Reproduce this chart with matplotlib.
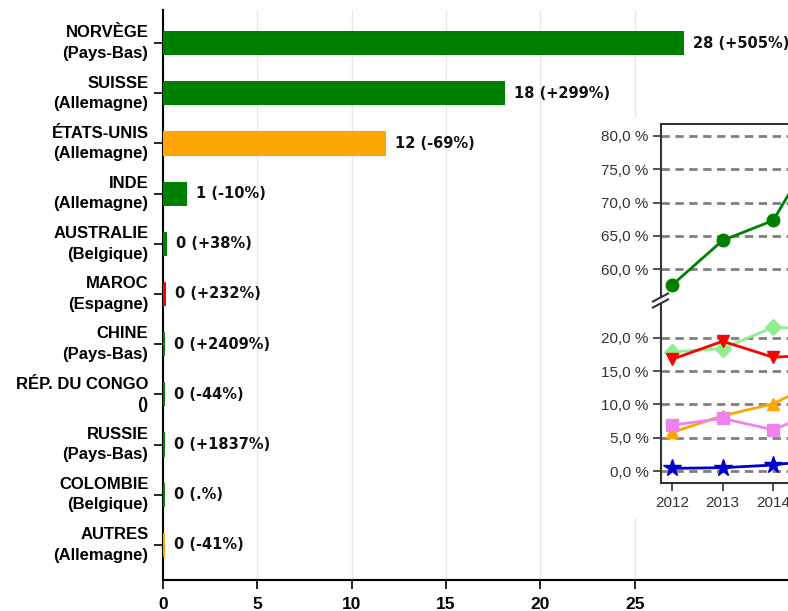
import matplotlib
matplotlib.use("Agg")
import matplotlib.pyplot as plt
from matplotlib.patches import Rectangle
from matplotlib.lines import Line2D
from matplotlib.ticker import FuncFormatter

# --- main bar chart data ---
pays = ["NORVÈGE", "SUISSE", "ÉTATS-UNIS", "INDE", "AUSTRALIE", "MAROC",
        "CHINE", "RÉP. DU CONGO", "RUSSIE", "COLOMBIE", "AUTRES"]
partenaires = ["Pays-Bas", "Allemagne", "Allemagne", "Allemagne", "Belgique",
               "Espagne", "Pays-Bas", "", "Pays-Bas", "Belgique", "Allemagne"]
valeurs = [27.6, 18.1, 11.8, 1.25, 0.22, 0.14, 0.12, 0.09, 0.1, 0.09, 0.09]
etiquettes = ["28 (+505%)", "18 (+299%)", "12 (-69%)", "1 (-10%)", "0 (+38%)",
              "0 (+232%)", "0 (+2409%)", "0 (-44%)", "0 (+1837%)", "0 (.%)",
              "0 (-41%)"]
couleurs = ["green", "green", "orange", "green", "green", "red",
            "green", "green", "green", "green", "orange"]

# --- inset line chart data ---
annees = [2012, 2013, 2014, 2015]
series = [
    # (values, colour, marker, size)
    ([5.8, 8.3, 10.1, 13.8], "orange", "^", 9),
    ([6.9, 7.9, 6.2, 9.3], "violet", "s", 9),
    ([17.9, 18.4, 21.6, 21.3], "lightgreen", "D", 8),
    ([16.8, 19.5, 17.1, 17.5], "red", "v", 9),
    ([0.4, 0.5, 0.9, 1.8], "mediumblue", "*", 13),
    ([57.6, 64.3, 67.3, 80.0], "green", "o", 9),
]

W, H = 788, 611
fig = plt.figure(figsize=(W / 100, H / 100), dpi=100)


def fbox(x0, y0, x1, y1):
    # pixel box (top-left origin) -> figure fraction [l, b, w, h]
    return [x0 / W, (H - y1) / H, (x1 - x0) / W, (y1 - y0) / H]


ax = fig.add_axes(fbox(163, 10, 788, 580))
pos = list(range(len(pays)))
ax.barh(pos, valeurs, height=0.48, color=couleurs, zorder=3)
for p, v, t in zip(pos, valeurs, etiquettes):
    ax.annotate(t, (v, p), xytext=(9, 0), textcoords="offset pixels",
                va="center", ha="left", fontsize=10.5, fontweight="bold",
                family="DejaVu Sans", color="#111111")

ax.set_xlim(0, 625 / 18.87)
ax.set_ylim(10.7, -0.66)
ax.set_yticks(pos)
ax.set_yticklabels([f"{a}\n({b})" for a, b in zip(pays, partenaires)],
                   fontsize=12, fontweight="bold", family="Liberation Sans",
                   linespacing=1.45, va="center")
ax.set_xticks([0, 5, 10, 15, 20, 25])
for lab in ax.get_xticklabels():
    lab.set_fontsize(12.5)
    lab.set_fontweight("bold")
    lab.set_family("Liberation Sans")
ax.tick_params(axis="y", length=6.5, width=1.2, pad=4)
ax.tick_params(axis="x", length=6.5, width=1.2, pad=6)
ax.xaxis.grid(True, color="#e8e8e8", lw=1, zorder=0)
ax.set_axisbelow(True)
for s in ["top", "right"]:
    ax.spines[s].set_visible(False)
for s in ["left", "bottom"]:
    ax.spines[s].set_linewidth(1.5)
    ax.spines[s].set_zorder(2)

# white panel behind the inset
fig.add_artist(Rectangle((595 / W, (H - 518) / H), (W - 595) / W, 400 / H,
                         transform=fig.transFigure, facecolor="white",
                         edgecolor="none", zorder=1))

x_right = 2015.22
x_w = 661 + (x_right - 2011.78) * 50.5
ax_top = fig.add_axes(fbox(661, 124, x_w, 297), zorder=2)
ax_bot = fig.add_axes(fbox(661, 304, x_w, 483), zorder=2)

fmt = FuncFormatter(lambda v, _: f"{v:.1f} %".replace(".", ","))
for a, lo, hi, ticks in [(ax_top, 55.8, 81.8, [60, 65, 70, 75, 80]),
                         (ax_bot, -1.8, 25.1, [0, 5, 10, 15, 20])]:
    for vals, c, m, ms in series:
        a.plot(annees, vals, color=c, marker=m, markersize=ms, lw=2)
    a.set_xlim(2011.78, x_right)
    a.set_ylim(lo, hi)
    a.set_yticks(ticks)
    a.yaxis.set_major_formatter(fmt)
    a.yaxis.grid(True, color="#808080", lw=2, linestyle=(0, (3, 2)))
    a.set_axisbelow(True)
    a.tick_params(axis="y", length=6, width=1.2, labelsize=11,
                  labelcolor="#333333", color="#333333", pad=3)
    a.tick_params(axis="x", length=6, width=1.2, labelsize=11,
                  labelcolor="#333333", color="#333333")
    a.spines["right"].set_visible(False)
    for s in ["left", "top", "bottom"]:
        a.spines[s].set_color("#333333")
        a.spines[s].set_linewidth(1.5)
    for lab in a.get_yticklabels() + a.get_xticklabels():
        lab.set_family("Liberation Sans")

ax_top.spines["bottom"].set_visible(False)
ax_top.tick_params(axis="x", bottom=False, labelbottom=False)
ax_bot.spines["top"].set_visible(False)
ax_bot.set_xticks(annees)

# break marks on the inset y axis
for yc in (297.5, 303.5):
    fig.add_artist(Line2D([653 / W, 668 / W], [(H - yc - 4) / H, (H - yc + 4) / H],
                          transform=fig.transFigure, color="#333333", lw=1.5,
                          zorder=3))

fig.savefig("out.png", dpi=100)
